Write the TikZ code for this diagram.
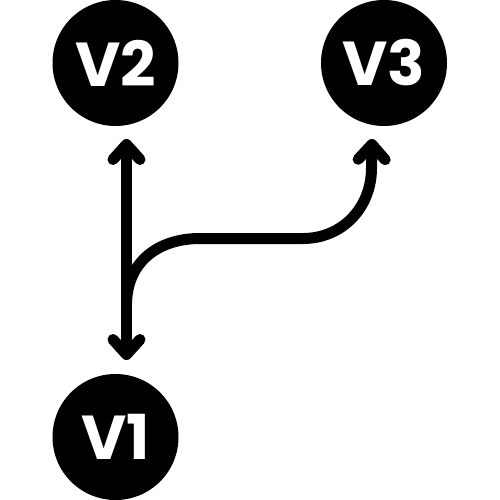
\documentclass[tikz,border=0pt]{standalone}
\usepackage{fontspec}
\newfontfamily\labelfont{Poppins}[UprightFont=* Bold]
\usetikzlibrary{arrows.meta}
\tikzset{
  vertex/.style={circle, fill=black, minimum size=126pt, inner sep=0pt,
    text=white, font=\labelfont\fontsize{62}{62}\selectfont},
  link/.style={line width=11pt, draw=black,
    arrows={-Straight Barb[round, length=15pt, width=27pt]}},
}
\begin{document}
\begin{tikzpicture}[x=1pt,y=-1pt]
\useasboundingbox (0,0) rectangle (500,500);
\node[vertex] (v2) at (115.5,63) {V2};
\node[vertex] (v3) at (384,63) {V3};
\node[vertex] (v1) at (115.5,437) {V1};
\coordinate (top) at (126.5,139);
\coordinate (bot) at (126.5,360);
\coordinate (branch) at (126.5,305);
\coordinate (v3tip) at (372,139);
\draw[link, arrows={Straight Barb[round, length=15pt, width=27pt]-Straight Barb[round, length=15pt, width=27pt]}] (top) -- (bot);
\draw[link] (branch) .. controls (126.5,262) and (158,238.5) .. (200,238.5)
  -- (303,238.5) .. controls (342,238.5) and (371.5,208) .. (371.5,168) -- (v3tip);
\end{tikzpicture}
\end{document}
